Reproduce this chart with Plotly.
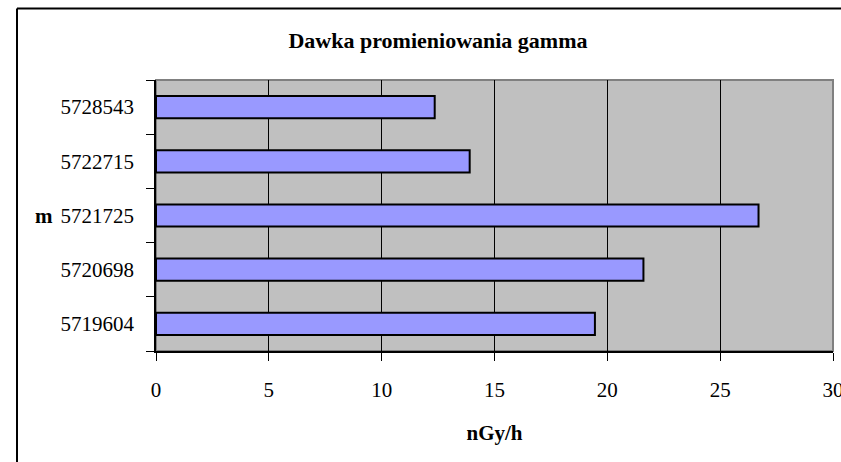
import plotly.graph_objects as go

categories = ["5719604", "5720698", "5721725", "5722715", "5728543"]
values = [19.45, 21.6, 26.7, 13.9, 12.35]
x_ticks = [0, 5, 10, 15, 20, 25, 30]

title_text = "Dawka promieniowania gamma"
x_title = "nGy/h"
y_title = "m"

FONT = "Liberation Serif, Times New Roman, serif"

W, H = 841, 462
# plot area in window coordinates: x 156..833, y 80..351
L, T = 156, 80
R = W - 833
B = H - 351
pw, ph = W - L - R, H - T - B

bx0 = (17 - L) / pw
by1 = (351 - 8.5) / ph

fig = go.Figure()
fig.add_trace(go.Bar(
    y=categories, x=values, orientation="h",
    marker=dict(color="#9999FF", line=dict(color="#000000", width=2)),
    showlegend=False,
))

fig.update_layout(
    width=W, height=H,
    margin=dict(l=L, r=R, t=T, b=B, pad=0),
    paper_bgcolor="white",
    plot_bgcolor="#C0C0C0",
    bargap=0.59,
    font=dict(family=FONT, color="black", size=21),
    title=dict(text="<b>" + title_text + "</b>", x=438 / W, xref="container",
               xanchor="center", y=1 - 40 / H, yref="container", yanchor="middle",
               font=dict(family=FONT, size=22, color="black")),
    xaxis=dict(
        range=[0, 30], tickvals=x_ticks, ticktext=[str(v) for v in x_ticks],
        showgrid=True, gridcolor="black", gridwidth=1,
        showline=True, linecolor="black", linewidth=1.5,
        ticks="outside", ticklen=8, tickcolor="black", tickwidth=1,
        ticklabelstandoff=11, ticklabeloverflow="allow", automargin=False,
        zeroline=False, fixedrange=True,
        title=dict(text="<b>" + x_title + "</b>", standoff=24,
                   font=dict(family=FONT, size=21, color="black")),
    ),
    yaxis=dict(
        type="category", categoryorder="array", categoryarray=categories,
        showgrid=False, showline=True, linecolor="black", linewidth=1.5,
        ticks="outside", ticklen=8, tickcolor="black", tickwidth=1,
        tickson="boundaries", ticklabelstandoff=16, automargin=False,
        zeroline=False, fixedrange=True,
    ),
    shapes=[
        dict(type="rect", xref="paper", yref="paper", x0=0, x1=1, y0=0, y1=1,
             line=dict(color="#808080", width=2), layer="below"),
        dict(type="line", xref="paper", yref="paper",
             x0=bx0, x1=bx0, y0=-0.5, y1=by1,
             line=dict(color="black", width=2), layer="above"),
        dict(type="line", xref="paper", yref="paper",
             x0=bx0, x1=1.05, y0=by1, y1=by1,
             line=dict(color="black", width=2), layer="above"),
    ],
    annotations=[
        dict(text="<b>" + y_title + "</b>", xref="paper", yref="paper",
             x=(55 - L) / pw, y=0.5, xanchor="right", yanchor="middle",
             showarrow=False, font=dict(family=FONT, size=21, color="black")),
    ],
)

fig.write_html(
    "out.html",
    config={"displayModeBar": False},
    post_script="document.body.style.margin='0';document.body.style.overflow='hidden';",
)
